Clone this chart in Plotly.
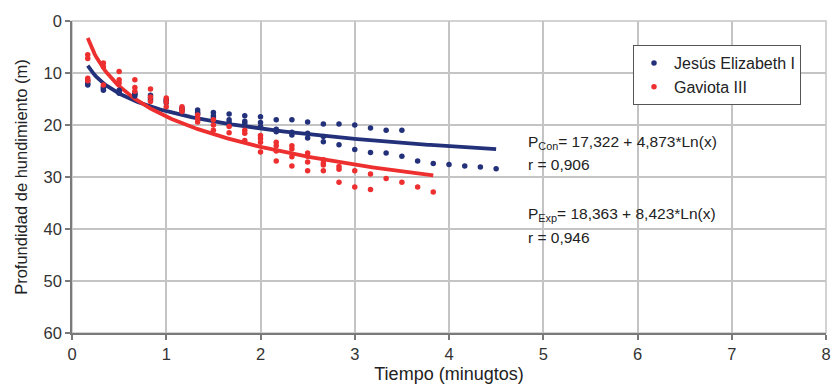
import numpy as np
import plotly.graph_objects as go

# ---- Data ----
# Jesús Elizabeth I (blue)
je_t = [0.167]*3 + [0.333]*3 + [0.5]*3 + [0.667]*3 + [0.833]*3 + [1.0]*3 + [1.167]*3 + \
       [1.333]*3 + [1.5]*3 + [1.667]*3 + [1.833]*3 + [2.0]*3 + [2.167]*3 + [2.333]*3 + \
       [2.5]*3 + [2.667]*3 + [2.833]*2 + [3.0]*2 + [3.167]*2 + [3.333]*2 + [3.5]*2 + \
       [3.667, 3.833, 4.0, 4.167, 4.333, 4.5]
je_p = [11.5, 12.0, 12.3,
        12.7, 13.0, 13.3,
        13.3, 13.6, 13.9,
        13.9, 14.1, 14.4,
        14.3, 14.8, 15.2,
        15.1, 15.4, 15.7,
        16.8, 17.0, 17.3,
        17.1, 17.6, 17.9,
        17.6, 18.2, 18.6,
        17.9, 19.0, 19.5,
        18.2, 19.3, 19.7,
        18.4, 19.5, 20.3,
        19.0, 20.8, 21.3,
        19.0, 21.4, 21.9,
        19.4, 21.6, 22.5,
        19.8, 22.2, 23.2,
        19.8, 23.8,
        20.0, 24.7,
        20.6, 25.3,
        21.0, 25.4,
        21.0, 26.0,
        26.9, 27.4, 27.6, 27.9, 28.1, 28.4]

# Gaviota III (red)
ga_t = [0.167]*4 + [0.333]*3 + [0.5]*3 + [0.667]*3 + [0.833]*3 + [1.0]*3 + [1.167]*3 + \
       [1.333]*3 + [1.5]*3 + [1.667]*2 + [1.833]*3 + [2.0]*4 + [2.167]*4 + [2.333]*4 + \
       [2.5]*4 + [2.667]*4 + [2.833]*3 + [3.0]*2 + [3.167]*2 + [3.333, 3.5, 3.667, 3.833]
ga_p = [6.5, 7.2, 11.0, 11.5,
        8.1, 8.8, 12.3,
        9.7, 11.3, 11.9,
        11.3, 12.8, 13.5,
        13.1, 14.6, 15.5,
        14.8, 15.6, 16.5,
        16.5, 17.0, 17.4,
        18.1, 18.8, 19.4,
        19.0, 20.0, 21.0,
        20.3, 21.5,
        21.0, 21.6, 23.0,
        22.0, 22.6, 23.3, 25.2,
        23.3, 24.0, 25.0, 26.9,
        24.0, 24.6, 26.1, 27.9,
        25.4, 26.0, 27.1, 28.8,
        26.7, 27.3, 27.7, 28.8,
        28.0, 28.5, 31.0,
        28.8, 31.9,
        29.4, 32.4,
        30.3, 31.0, 31.9, 32.9]

# Logarithmic fit coefficients printed on the chart: P = a + b*Ln(x)
je_fit = [17.322, 4.873]
ga_fit = [18.363, 8.423]
je_fit_range = [0.167, 4.5]
ga_fit_range = [0.167, 3.833]

x_ticks = [0, 1, 2, 3, 4, 5, 6, 7, 8]
y_ticks = [0, 10, 20, 30, 40, 50, 60]

BLUE = "#23307a"
RED = "#ee2f2f"
FONT = "Liberation Sans, Arial, sans-serif"

fig = go.Figure()

xb = np.linspace(je_fit_range[0], je_fit_range[1], 200)
xr = np.linspace(ga_fit_range[0], ga_fit_range[1], 200)

fig.add_trace(go.Scatter(x=xb, y=je_fit[0] + je_fit[1]*np.log(xb), mode="lines",
                         line=dict(color=BLUE, width=3.8), showlegend=False, hoverinfo="skip"))
fig.add_trace(go.Scatter(x=xr, y=ga_fit[0] + ga_fit[1]*np.log(xr), mode="lines",
                         line=dict(color=RED, width=3.8), showlegend=False, hoverinfo="skip"))

fig.add_trace(go.Scatter(x=je_t, y=je_p, mode="markers", name="Jesús Elizabeth I",
                         marker=dict(color=BLUE, size=5.5)))
fig.add_trace(go.Scatter(x=ga_t, y=ga_p, mode="markers", name="Gaviota III",
                         marker=dict(color=RED, size=5.5)))

# light frame (top/right)
fig.add_shape(type="rect", xref="paper", yref="paper", x0=0, y0=0, x1=1, y1=1,
              line=dict(color="#c4c4c4", width=1.5), layer="below")

ann_font = dict(family=FONT, size=15.5, color="#222")
ann = [
    (528, 142, "P<sub>Con</sub>= 17,322 + 4,873*Ln(x)"),
    (528, 164, "r = 0,906"),
    (528, 214, "P<sub>Exp</sub>= 18,363 + 8,423*Ln(x)"),
    (528, 237, "r = 0,946"),
]
for px, py, txt in ann:
    fig.add_annotation(x=(px - 72) / 754, y=(333 - py) / 312, xref="paper", yref="paper",
                       text=txt, showarrow=False, xanchor="left", yanchor="middle",
                       font=ann_font, align="left", xshift=-2)

fig.update_layout(
    width=833, height=387,
    margin=dict(l=72, r=7, t=21, b=54),
    paper_bgcolor="white", plot_bgcolor="white",
    font=dict(family=FONT, size=16, color="#333"),
    legend=dict(x=(633 - 72) / 754, y=(333 - 45) / 312, xanchor="left", yanchor="top",
                bgcolor="white", bordercolor="#555", borderwidth=1,
                font=dict(family=FONT, size=16, color="#222"),
                itemsizing="trace"),
    xaxis=dict(range=[0, 8], tickvals=x_ticks, ticktext=[str(v) for v in x_ticks],
               showgrid=True, gridcolor="#c4c4c4", gridwidth=1.5,
               showline=True, linecolor="#7a7a7a", linewidth=1.5,
               ticks="outside", ticklen=5, tickcolor="#7a7a7a", tickwidth=1.5,
               zeroline=False, tickfont=dict(size=16.5, color="#333"),
               automargin=False,
               title=dict(text="Tiempo (minugtos)", font=dict(size=18, color="#222"), standoff=6)),
    yaxis=dict(range=[60, 0], tickvals=y_ticks, ticktext=[str(v) for v in y_ticks],
               showgrid=True, gridcolor="#c4c4c4", gridwidth=1.5,
               showline=True, linecolor="#7a7a7a", linewidth=1.5,
               ticks="outside", ticklen=5, tickcolor="#7a7a7a", tickwidth=1.5,
               zeroline=False, tickfont=dict(size=16.5, color="#333"),
               automargin=False,
               title=dict(text="Profundidad de hundimiento (m)", font=dict(size=16.5, color="#222"),
                          standoff=12)),
)

fig.write_html("out.html", config={"displayModeBar": False},
               post_script="document.body.style.margin='0';document.body.style.padding='0';")
